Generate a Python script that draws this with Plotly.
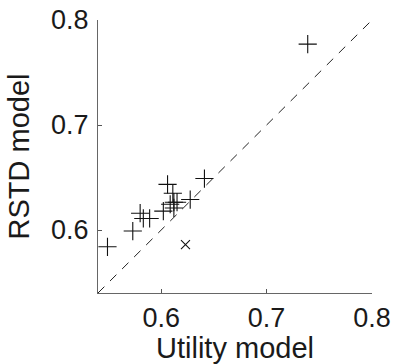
import plotly.graph_objects as go

utility_plus = [0.549, 0.573, 0.580, 0.583, 0.589, 0.602, 0.606, 0.611, 0.6085, 0.612, 0.615, 0.612, 0.6275, 0.641, 0.739]
rstd_plus = [0.584, 0.599, 0.616, 0.611, 0.611, 0.618, 0.6435, 0.635, 0.6245, 0.6265, 0.6265, 0.621, 0.629, 0.649, 0.777]
utility_x = [0.623]
rstd_x = [0.586]
diag = [0.54, 0.8]
tick_vals = [0.6, 0.7, 0.8]
tick_text = ["0.6", "0.7", "0.8"]

font = "Liberation Sans, Arial, Helvetica, sans-serif"

fig = go.Figure()
fig.add_trace(go.Scatter(x=diag, y=diag, mode="lines",
                         line=dict(color="#222", width=1, dash="9px,8px"),
                         hoverinfo="skip", showlegend=False))
fig.add_trace(go.Scatter(x=utility_plus, y=rstd_plus, mode="markers",
                         marker=dict(symbol="cross-thin", size=13,
                                     line=dict(color="#111", width=1.1)),
                         showlegend=False))
fig.add_trace(go.Scatter(x=utility_x, y=rstd_x, mode="markers",
                         marker=dict(symbol="x-thin", size=9,
                                     line=dict(color="#111", width=1.1)),
                         showlegend=False))

axis_common = dict(range=[0.54, 0.8], tickvals=tick_vals, ticktext=tick_text,
                   ticks="inside", ticklen=4, tickcolor="#555", tickwidth=1,
                   showline=True, linecolor="#666", linewidth=1.2,
                   showgrid=False, zeroline=False, automargin=False,
                   tickfont=dict(family=font, size=27, color="#1a1a1a"),
                   title_font=dict(family=font, size=29, color="#1a1a1a"))

fig.update_layout(
    width=394, height=364,
    margin=dict(l=98, r=22, t=20, b=71),
    paper_bgcolor="white", plot_bgcolor="white",
    xaxis=dict(**axis_common, title=dict(text="Utility model", standoff=0)),
    yaxis=dict(**axis_common, ticklabelstandoff=3,
               title=dict(text="RSTD model", standoff=12)),
)
fig.write_html("out.html")
